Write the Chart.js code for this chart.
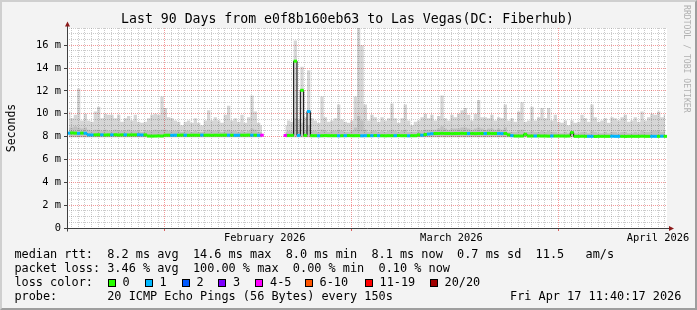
<!DOCTYPE html>
<html lang="en">
<head>
<meta charset="UTF-8">
<title>Last 90 Days from e0f8b160eb63 to Las Vegas(DC: Fiberhub)</title>
<script src="https://cdn.jsdelivr.net/npm/chart.js"></script>
<style>
  body { margin: 0; background: #f3f3f3; }
  #wrap {
    position: relative; width: 697px; height: 310px; overflow: hidden;
    background: #f3f3f3; color: #000;
    font-family: 'DejaVu Sans Mono', monospace;
  }
  #chart { position: absolute; left: 0; top: 0; }
  .frame {
    position: absolute; left: 0; top: 0; width: 697px; height: 310px;
    box-sizing: border-box; border: 2px solid;
    border-color: #cfcfcf #9e9e9e #9e9e9e #cfcfcf; pointer-events: none;
  }
  .title {
    position: absolute; top: 11.4px; left: 347.4px; transform: translateX(-50%);
    font-size: 13.2px; line-height: 16px; white-space: pre;
  }
  .row, .lab { position: absolute; font-size: 11.87px; line-height: 14px; white-space: pre; }
  .row { left: 14.4px; }
  .box { position: absolute; width: 8px; height: 8px; box-sizing: border-box; border: 1px solid #000; }
  .brand {
    position: absolute; left: 682px; top: 5px; writing-mode: vertical-rl;
    font-size: 8.15px; line-height: 10px; color: #b0b0b0; white-space: pre;
  }
</style>
</head>
<body>
<div id="wrap">
  <canvas id="chart" width="697" height="310"></canvas>
  <div class="title">Last 90 Days from e0f8b160eb63 to Las Vegas(DC: Fiberhub)</div>
  <div class="brand">RRDTOOL / TOBI OETIKER</div>
  <div class="row" style="top:247px">median rtt:  8.2 ms avg  14.6 ms max  8.0 ms min  8.1 ms now  0.7 ms sd  11.5   am/s</div>
  <div class="row" style="top:261.1px">packet loss: 3.46 % avg  100.00 % max  0.00 % min  0.10 % now</div>
  <div class="row" style="top:275.2px">loss color:</div>
  <div id="lossLegend"></div>
  <div class="row" style="top:289.3px">probe:       20 ICMP Echo Pings (56 Bytes) every 150s</div>
  <div class="lab" style="top:289.3px; left:510px">Fri Apr 17 11:40:17 2026</div>
  <div class="frame"></div>
</div>

<script>
// time axis in days of 2026 (Jan 1 = 0), half-day bins
const startDay = 16.34;
const endDay = 106.34;
const binDays = 0.5;

const monthStarts = [31, 59, 90];
const monthLabelDays = [46, 74, 105];
const monthLabels = ['February 2026', 'March 2026', 'April 2026'];

const lossLabels = ['0', '1', '2', '3', '4-5', '6-10', '11-19', '20/20'];
const lossColors = ['#26ff00', '#00b8ff', '#0059ff', '#7e00ff', '#ff00ff', '#ff5500', '#ff0000', '#a10000'];

// median rtt per bin (ms), null = no data
const medianMs = [
  8.30,8.32,8.30,8.28,8.30,8.29,8.15,8.14,8.15,8.16,
  8.15,8.14,8.15,8.15,8.16,8.14,8.15,8.15,8.14,8.15,
  8.15,8.16,8.14,8.15,8.05,8.04,8.05,8.06,8.05,8.12,
  8.12,8.11,8.12,8.12,8.13,8.12,8.11,8.12,8.12,8.12,
  8.13,8.12,8.12,8.11,8.12,8.12,8.12,8.13,8.12,8.12,
  8.11,8.12,8.12,8.12,8.13,8.12,8.12,8.11,8.12,null,
  null,null,null,null,null,8.10,8.10,8.11,14.60,8.10,
  12.05,8.10,10.20,8.08,8.08,8.07,8.08,8.09,8.08,8.08,
  8.08,8.07,8.08,8.08,8.09,8.08,8.08,8.08,8.07,8.08,
  8.08,8.08,8.09,8.08,8.08,8.07,8.08,8.08,8.08,8.09,
  8.08,8.08,8.07,8.08,8.08,8.15,8.12,8.18,8.22,8.25,
  8.27,8.27,8.28,8.27,8.27,8.26,8.27,8.27,8.28,8.27,
  8.27,8.27,8.26,8.27,8.27,8.27,8.28,8.27,8.27,8.27,
  8.26,8.27,8.15,8.08,8.05,8.05,8.05,8.20,8.05,8.05,
  8.05,8.06,8.05,8.05,8.04,8.05,8.05,8.05,8.05,8.04,
  8.05,8.35,8.02,8.02,8.03,8.02,8.02,8.02,8.01,8.02,
  8.02,8.02,8.02,8.03,8.02,8.02,8.02,8.01,8.02,8.02,
  8.02,8.02,8.03,8.02,8.02,8.02,8.02,8.02,8.03,8.02
];

// loss colour class per bin (index into lossColors)
const lossIdx = [
  1,0,0,1,0,1,1,1,0,0,
  1,0,0,1,0,0,0,1,0,0,
  0,1,1,0,0,0,0,0,0,0,
  0,1,1,0,0,1,0,0,0,0,
  1,0,0,0,0,0,0,0,1,0,
  1,1,0,0,0,1,0,1,4,null,
  null,null,null,null,null,4,0,0,0,1,
  0,0,1,0,0,1,0,0,0,0,
  0,1,0,1,0,0,0,0,1,1,
  0,1,0,1,0,0,0,0,1,0,
  0,0,1,0,0,0,1,0,1,1,
  0,0,0,0,0,0,0,0,0,0,
  1,0,0,0,0,1,0,0,0,1,
  1,0,0,1,0,0,0,0,0,0,
  1,0,0,0,0,1,0,0,0,0,
  0,0,0,0,0,0,1,1,0,0,
  0,0,0,1,1,1,0,0,0,0,
  0,0,0,0,0,1,1,0,1,0
];

// top of the smoke (slowest ping) per bin (ms)
const smokeTop = [
  10.2,9.6,9.9,12.2,9.4,10.0,9.4,9.3,10.2,10.6,
  9.6,10.0,9.9,9.9,9.6,9.9,9.3,9.6,9.8,9.4,
  9.9,9.3,9.2,9.3,9.6,9.9,10.0,9.9,11.5,10.5,
  9.7,9.6,9.4,9.3,9.0,9.3,9.4,9.2,9.6,9.2,
  9.0,9.4,10.3,9.4,9.7,9.4,9.2,9.9,10.7,9.4,
  9.6,9.3,9.9,9.2,9.7,11.6,10.2,9.2,9.0,null,
  null,null,null,null,null,9.0,9.4,9.3,16.4,9.5,
  14.1,9.7,13.8,9.6,9.4,9.2,11.5,9.7,9.3,9.4,
  9.6,10.8,9.5,9.3,9.2,9.4,11.5,17.5,16.0,10.8,
  9.4,9.9,9.7,9.3,9.7,9.4,9.6,10.9,9.6,9.2,
  9.6,10.8,9.4,9.0,9.3,9.4,9.7,10.0,9.6,9.9,
  9.4,9.8,11.6,9.6,9.4,9.9,9.7,10.0,10.3,10.5,
  9.9,9.4,10.0,11.2,9.7,9.7,9.6,9.9,9.4,9.7,
  9.6,10.8,9.4,9.6,9.3,10.2,11.0,9.3,9.4,10.6,
  9.4,9.7,10.5,9.6,10.5,9.4,9.9,9.3,9.2,9.4,
  9.0,9.4,9.2,9.3,9.9,9.6,9.3,10.8,9.7,9.3,
  9.4,9.6,9.2,9.7,9.6,9.4,9.7,9.9,9.3,9.4,
  9.7,9.3,10.2,9.4,9.7,10.0,9.9,10.2,9.7,9.9
];

// top of the dense part of the smoke per bin (ms)
const smokeMid = [
  8.8,8.8,8.9,8.8,8.7,8.8,8.6,8.5,8.6,8.6,
  8.5,8.6,8.5,8.5,8.6,8.5,8.5,8.5,8.6,8.5,
  8.5,8.5,8.4,8.5,8.5,8.5,8.6,8.5,8.6,8.6,
  8.5,8.5,8.5,8.5,8.4,8.5,8.5,8.4,8.5,8.4,
  8.4,8.5,8.6,8.5,8.5,8.5,8.4,8.5,8.6,8.5,
  8.5,8.4,8.5,8.4,8.5,8.7,8.6,8.4,8.4,null,
  null,null,null,null,null,8.4,8.5,8.5,9.6,8.5,
  9.2,8.5,9.0,8.5,8.5,8.4,8.6,8.5,8.4,8.5,
  8.5,8.6,8.5,8.4,8.4,8.5,8.8,9.8,9.4,8.6,
  8.4,8.5,8.5,8.4,8.5,8.4,8.5,8.6,8.5,8.4,
  8.5,8.6,8.4,8.4,8.4,8.5,8.5,8.6,8.6,8.6,
  8.6,8.7,8.9,8.7,8.6,8.7,8.7,8.7,8.8,8.8,
  8.7,8.6,8.7,8.8,8.7,8.6,8.7,8.7,8.6,8.7,
  8.6,8.8,8.4,8.4,8.4,8.5,8.6,8.4,8.4,8.5,
  8.4,8.4,8.5,8.4,8.5,8.4,8.4,8.3,8.3,8.4,
  8.3,8.5,8.3,8.3,8.4,8.4,8.3,8.5,8.4,8.3,
  8.3,8.4,8.3,8.4,8.4,8.3,8.4,8.4,8.3,8.3,
  8.4,8.3,8.5,8.4,8.4,8.5,8.5,8.5,8.4,8.5
];

const binTimes = medianMs.map((_, i) => startDay + binDays * (i + 0.5));
const pts = arr => arr.map((v, i) => ({ x: binTimes[i], y: v }));

const dayTicks = [];
for (let d = Math.ceil(startDay); d <= endDay; d++) dayTicks.push(d);
const yTicks = [];
for (let v = 0; v <= 17.5; v += 0.5) yTicks.push(v);

const minorGrid = 'rgba(140,140,140,0.45)';
const majorGrid = 'rgba(225,0,0,0.4)';
const monoFont = size => ({ family: "'DejaVu Sans Mono'", size: size, weight: 'normal', lineHeight: 1.2 });

// legend boxes for the loss colours
const lossBoxX = [107.5, 144.5, 181.5, 218, 255, 304.5, 364.5, 429.5];
const legendEl = document.getElementById('lossLegend');
lossLabels.forEach((lab, i) => {
  const b = document.createElement('div');
  b.className = 'box';
  b.style.left = lossBoxX[i] + 'px';
  b.style.top = '278.5px';
  b.style.background = lossColors[i];
  legendEl.appendChild(b);
  const t = document.createElement('div');
  t.className = 'lab';
  t.style.left = (lossBoxX[i] + 15) + 'px';
  t.style.top = '275.2px';
  t.textContent = lab;
  legendEl.appendChild(t);
});

const plotFrame = {
  id: 'plotFrame',
  beforeDraw(chart) {
    const { ctx, chartArea: a } = chart;
    ctx.save();
    ctx.fillStyle = '#ffffff';
    ctx.fillRect(a.left, a.top, a.right - a.left, a.bottom - a.top);
    ctx.restore();
  },
  afterDraw(chart) {
    const { ctx, chartArea: a } = chart;
    const x0 = Math.round(a.left) + 0.5;
    const y0 = Math.round(a.bottom) + 0.5;
    ctx.save();
    ctx.strokeStyle = '#404040';
    ctx.lineWidth = 1;
    ctx.beginPath();
    ctx.moveTo(x0, y0 + 3);
    ctx.lineTo(x0, a.top - 3);
    ctx.moveTo(x0 - 3, y0);
    ctx.lineTo(a.right + 4, y0);
    ctx.stroke();
    ctx.fillStyle = '#8b1a1a';
    ctx.beginPath();
    ctx.moveTo(x0, a.top - 6.5);
    ctx.lineTo(x0 - 2.5, a.top - 1.5);
    ctx.lineTo(x0 + 2.5, a.top - 1.5);
    ctx.closePath();
    ctx.fill();
    ctx.beginPath();
    ctx.moveTo(a.right + 7, y0);
    ctx.lineTo(a.right + 2, y0 - 2.5);
    ctx.lineTo(a.right + 2, y0 + 2.5);
    ctx.closePath();
    ctx.fill();
    ctx.restore();
  }
};

const isMonth = ctx => ctx.tick && monthStarts.includes(ctx.tick.value);
const isMajorY = ctx => ctx.tick && ctx.tick.value % 2 === 0;

new Chart(document.getElementById('chart'), {
  type: 'line',
  data: {
    datasets: [
      {
        label: 'loss',
        data: pts(medianMs),
        showLine: false,
        pointStyle: 'line',
        pointRadius: 1.75,
        pointBorderWidth: 3,
        pointBorderColor: lossIdx.map(k => k === null ? 'transparent' : lossColors[k]),
        order: 0
      },
      {
        label: 'median rtt',
        data: pts(medianMs),
        borderColor: '#000000',
        borderWidth: 1,
        stepped: 'middle',
        pointRadius: 0,
        order: 1
      },
      {
        label: 'smoke dense',
        data: pts(smokeMid),
        borderColor: 'transparent',
        borderWidth: 1,
        backgroundColor: 'rgba(0,0,0,0.1)',
        fill: { value: 7.95 },
        stepped: 'middle',
        pointRadius: 0,
        order: 2
      },
      {
        label: 'smoke',
        data: pts(smokeTop),
        borderColor: 'transparent',
        borderWidth: 1,
        backgroundColor: 'rgba(0,0,0,0.16)',
        fill: { value: 7.95 },
        stepped: 'middle',
        pointRadius: 0,
        order: 3
      }
    ]
  },
  options: {
    responsive: false,
    devicePixelRatio: 1,
    animation: false,
    events: [],
    layout: { padding: { left: 0, right: 30, top: 28, bottom: 63 } },
    plugins: {
      legend: { display: false },
      tooltip: { enabled: false },
      title: { display: false }
    },
    scales: {
      x: {
        type: 'linear',
        position: 'bottom',
        weight: 0,
        min: startDay,
        max: endDay,
        afterBuildTicks: s => { s.ticks = dayTicks.map(v => ({ value: v })); },
        afterFit: s => { s.height = 3; },
        ticks: { display: false, autoSkip: false },
        grid: {
          color: ctx => isMonth(ctx) ? majorGrid : minorGrid,
          lineWidth: 1,
          drawTicks: true,
          tickLength: 3,
          tickColor: ctx => isMonth(ctx) ? 'rgba(200,0,0,0.6)' : 'transparent'
        },
        border: { display: false, dash: [1, 1] }
      },
      xl: {
        type: 'linear',
        position: 'bottom',
        weight: 1,
        min: startDay,
        max: endDay,
        afterBuildTicks: s => { s.ticks = monthLabelDays.map(v => ({ value: v })); },
        afterFit: s => { s.height = 16; },
        ticks: {
          autoSkip: false,
          maxRotation: 0,
          padding: 1,
          color: '#000',
          font: monoFont(10.4),
          callback: (v, i) => monthLabels[i]
        },
        grid: { display: false, drawTicks: false },
        border: { display: false }
      },
      y: {
        type: 'linear',
        position: 'left',
        min: 0,
        max: 17.5,
        afterBuildTicks: s => { s.ticks = yTicks.map(v => ({ value: v })); },
        afterFit: s => { s.width = 67; },
        ticks: {
          autoSkip: false,
          padding: 3,
          color: '#000',
          font: monoFont(10.4),
          callback: v => v === 0 ? '0' : (v % 2 === 0 ? v + ' m' : '')
        },
        grid: {
          color: ctx => !ctx.tick || ctx.tick.value === 0 ? 'transparent' : (isMajorY(ctx) ? majorGrid : minorGrid),
          lineWidth: 1,
          drawTicks: true,
          tickLength: 3,
          tickColor: ctx => isMajorY(ctx) ? '#404040' : 'transparent'
        },
        border: { display: false, dash: [1, 1] },
        title: {
          display: true,
          text: 'Seconds',
          color: '#000',
          font: monoFont(11.5),
          padding: { top: 5, bottom: 0 }
        }
      }
    }
  },
  plugins: [plotFrame]
});
</script>
</body>
</html>
